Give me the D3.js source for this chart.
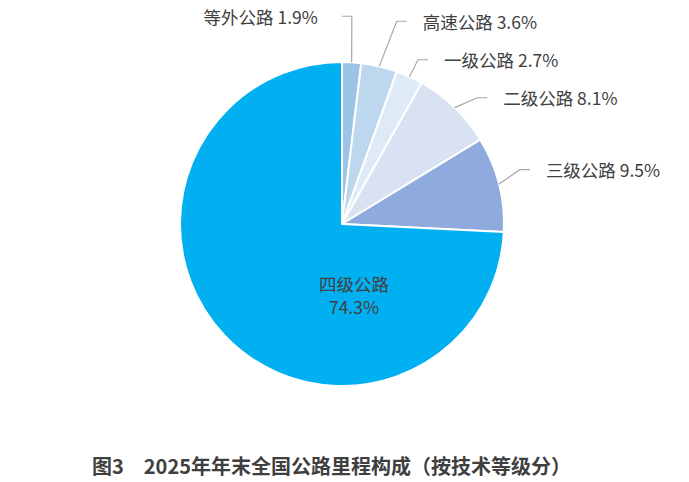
<!DOCTYPE html>
<html lang="zh">
<head>
    <meta charset="utf-8">
    <title>2025年年末全国公路里程构成</title>
    <script src="https://d3js.org/d3.v7.min.js"></script>
    <style>
        body { margin: 0; background: #fff; }
        svg { display: block; font-family: "Noto Sans CJK SC", "Noto Sans", sans-serif; }
        .label { font-size: 17.5px; fill: #404040; }
        .title { font-size: 20px; font-weight: 700; fill: #3f3f3f; }
    </style>
</head>
<body>
    <div id="chart"></div>
    <script>
        // Data
        const categories = ["等外公路", "高速公路", "一级公路", "二级公路", "三级公路", "四级公路"];
        const shares = [1.9, 3.6, 2.7, 8.1, 9.5, 74.3];
        const colors = ["#9dc3e6", "#bdd7ee", "#deebf7", "#d9e2f3", "#8faadc", "#00b0f0"];

        // Dimensions
        const width = 689;
        const height = 482;
        const cx = 342;
        const cy = 224;
        const radius = 162;

        // Leader elbows for the outside labels: radius and angle shift (deg) from slice middle
        const elbowR = [208, 210, 181, 185, 186];
        const elbowShift = [-0.7, 1.8, 0.2, 2.9, -2.7];

        const svg = d3.select("#chart")
            .append("svg")
            .attr("width", width)
            .attr("height", height);

        const bounds = svg.append("g")
            .attr("transform", `translate(${cx},${cy})`);

        const pie = d3.pie()
            .sort(null)
            .value(d => d);

        const arcs = pie(shares);

        const arc = d3.arc()
            .innerRadius(0)
            .outerRadius(radius);

        // Draw slices
        bounds.selectAll(".slice")
            .data(arcs)
            .enter().append("path")
            .attr("class", "slice")
            .attr("d", arc)
            .attr("fill", (d, i) => colors[i])
            .attr("stroke", "#fff")
            .attr("stroke-width", 2)
            .attr("stroke-linejoin", "round");

        // Outside labels with leader lines
        const polar = (a, r) => [Math.sin(a) * r, -Math.cos(a) * r];

        arcs.slice(0, 5).forEach((d, i) => {
            const mid = (d.startAngle + d.endAngle) / 2;
            const p0 = polar(mid, radius);
            const p1 = polar(mid + elbowShift[i] * Math.PI / 180, elbowR[i]);
            // first label sits to the left of its line
            const dir = i === 0 ? -1 : 1;
            const p2 = [p1[0] + dir * 10, p1[1]];

            bounds.append("polyline")
                .attr("points", [p0, p1, p2].map(p => p.join(",")).join(" "))
                .attr("fill", "none")
                .attr("stroke", "#a6a6a6")
                .attr("stroke-width", 1.2);

            bounds.append("text")
                .attr("class", "label")
                .attr("x", p2[0] + dir * (i === 0 ? 24 : 16))
                .attr("y", p1[1])
                .attr("dominant-baseline", "central")
                .attr("text-anchor", dir < 0 ? "end" : "start")
                .text(`${categories[i]} ${shares[i]}%`);
        });

        // Inside label for the largest slice
        bounds.append("text")
            .attr("class", "label")
            .attr("text-anchor", "middle")
            .attr("dominant-baseline", "central")
            .attr("x", 12)
            .attr("y", 59)
            .text(categories[5]);

        bounds.append("text")
            .attr("class", "label")
            .attr("text-anchor", "middle")
            .attr("dominant-baseline", "central")
            .attr("x", 12)
            .attr("y", 82)
            .text(`${shares[5]}%`);

        // Title
        const title = svg.append("text")
            .attr("class", "title")
            .attr("x", 92)
            .attr("y", 465)
            .attr("dominant-baseline", "central");

        title.append("tspan").text("图3");
        title.append("tspan")
            .attr("dx", 20)
            .text("2025年年末全国公路里程构成（按技术等级分）");
    </script>
</body>
</html>
